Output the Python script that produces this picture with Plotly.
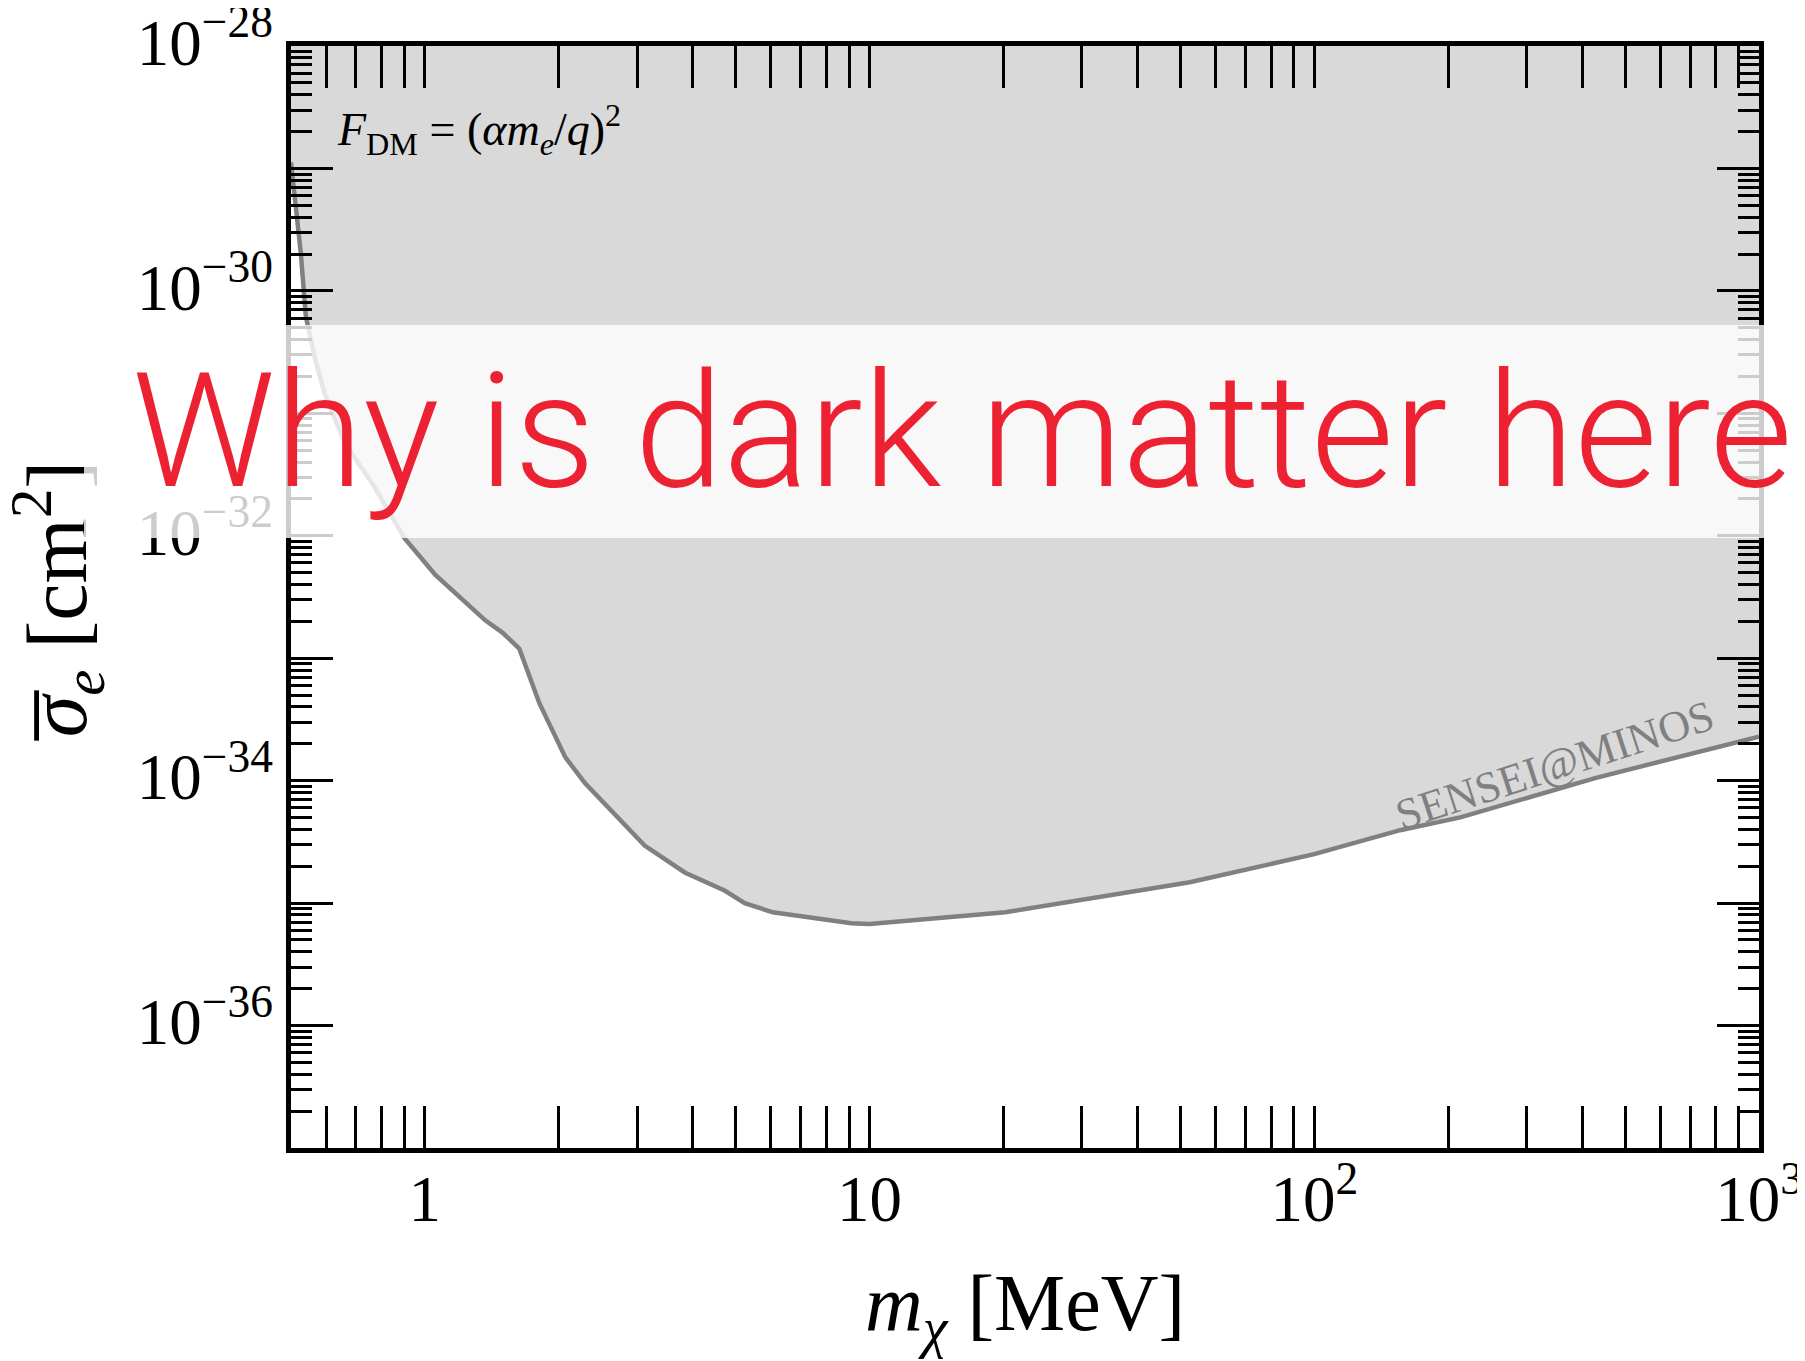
import plotly.graph_objects as go

# ---- data ----
mass_mev = [0.50, 0.512, 0.526, 0.540, 0.565, 0.595, 0.66, 0.77, 0.90, 1.056,
            1.367, 1.494, 1.63, 1.81, 2.07, 2.29, 3.12, 3.84, 4.73, 5.24,
            6.06, 9.1, 10.0, 20.2, 33.2, 52.5, 100.0, 156.0, 213.0, 428.0, 1000.0]
sigma_cm2 = [1.12e-29, 4.79e-30, 2.04e-30, 6.17e-31, 2.88e-31, 1.46e-31, 5.75e-32,
             2.51e-32, 9.55e-33, 4.79e-33, 2.04e-33, 1.62e-33, 1.20e-33, 4.27e-34,
             1.55e-34, 9.55e-35, 2.95e-35, 1.78e-35, 1.26e-35, 1.00e-35, 8.41e-36,
             6.84e-36, 6.76e-36, 8.41e-36, 1.12e-35, 1.48e-35, 2.51e-35, 3.94e-35,
             5.01e-35, 1.05e-34, 2.29e-34]
sigma_top = 1e-28

x_tickvals = [1, 10, 100, 1000]
x_ticktext = ["1", "10", "10<sup>2</sup>", "10<sup>3</sup>"]
y_label_exponents = [-28, -30, -32, -34, -36]
y_unlabelled_exponents = [-29, -31, -33, -35, -37]

curve_label = "SENSEI@MINOS"
form_factor_label = "<i>F</i><sub>DM</sub> = (<i>αm</i><sub><i>e</i></sub>/<i>q</i>)<sup>2</sup>"
x_title = "<i>m</i><sub><i>χ</i></sub> [MeV]"
y_title = "<i>σ</i><sub><i>e</i></sub> [cm<sup>2</sup>]"
y_title_bar = "\u2013"   # the bar drawn over sigma
overlay_text = "Why is dark matter here?"

# ---- derived tick arrays ----
y_tickvals = [10.0 ** e for e in y_label_exponents]
y_ticktext = ["10<sup>\u2212%d</sup>" % (-e) for e in y_label_exponents]
y_tickvals2 = [10.0 ** e for e in y_unlabelled_exponents]
x_minor = [m * 10.0 ** d for d in range(-1, 3) for m in range(2, 10)]
y_minor = [m * 10.0 ** e for e in y_label_exponents + y_unlabelled_exponents for m in range(2, 10)]

SERIF = "Liberation Serif"
TICKFONT = dict(family=SERIF, size=65, color="black")

fig = go.Figure()
fig.add_trace(go.Scatter(x=mass_mev, y=[sigma_top] * len(mass_mev), mode="lines",
                         line=dict(width=0, color="rgba(0,0,0,0)"), showlegend=False,
                         hoverinfo="skip"))
fig.add_trace(go.Scatter(x=mass_mev, y=sigma_cm2, mode="lines", fill="tonexty",
                         fillcolor="#d9d9d9", line=dict(color="#808080", width=4.5),
                         showlegend=False))

fig.update_layout(
    xaxis=dict(type="log", range=[-0.30103, 3], tickmode="array",
               tickvals=x_tickvals, ticktext=x_ticktext, ticklabelstandoff=-10,
               ticklabeloverflow="allow",
               showgrid=False, zeroline=False, showline=True, linecolor="black",
               linewidth=5, mirror="allticks", ticks="inside", tickcolor="black",
               tickwidth=2.5, ticklen=42, tickfont=TICKFONT, automargin=False,
               minor=dict(tickmode="array", tickvals=x_minor, ticks="inside",
                          ticklen=22, tickwidth=2.5, tickcolor="black")),
    yaxis=dict(type="log", range=[-37, -28], tickmode="array",
               tickvals=y_tickvals, ticktext=y_ticktext, ticklabelstandoff=0,
               ticklabelshift=-4, ticklabeloverflow="allow",
               showgrid=False, zeroline=False, showline=True, linecolor="black",
               linewidth=5, mirror="allticks", ticks="inside", tickcolor="black",
               tickwidth=2.5, ticklen=42, tickfont=TICKFONT, automargin=False,
               minor=dict(tickmode="array", tickvals=y_minor, ticks="inside",
                          ticklen=21, tickwidth=2.5, tickcolor="black")),
    yaxis2=dict(type="log", range=[-37, -28], overlaying="y", anchor="x", side="left",
                tickmode="array", tickvals=y_tickvals2, showticklabels=False,
                showgrid=False, zeroline=False, showline=False, mirror="allticks",
                ticks="inside", tickcolor="black", tickwidth=2.5, ticklen=42,
                automargin=False),
)
# invisible helper trace so the second (tick-only) y axis is drawn
fig.add_trace(go.Scatter(x=[mass_mev[0]], y=[sigma_top], yaxis="y2", mode="markers",
                         marker=dict(opacity=0), showlegend=False, hoverinfo="skip"))

annotations = [
    dict(text=form_factor_label, xref="paper", yref="paper", x=0.030, y=0.924,
         xanchor="left", yanchor="middle", showarrow=False,
         font=dict(family=SERIF, size=46, color="black")),
    dict(text=curve_label, xref="x", yref="y", x=2.54, y=-33.874, textangle=-18,
         xanchor="center", yanchor="middle", showarrow=False,
         font=dict(family=SERIF, size=44, color="#808080")),
    dict(text=x_title, xref="paper", yref="paper",
         x=0.5, y=-0.146, xanchor="center", yanchor="middle", showarrow=False,
         font=dict(family=SERIF, size=80, color="black")),
    dict(text=y_title, xref="paper", yref="paper",
         x=-0.1587, y=0.498, xanchor="center", yanchor="middle", textangle=-90,
         showarrow=False, font=dict(family=SERIF, size=84, color="black")),
    dict(text=y_title_bar, xref="paper", yref="paper",
         x=-0.1805, y=0.392, xanchor="center", yanchor="middle", textangle=-90,
         showarrow=False, font=dict(family=SERIF, size=98, color="black")),
    dict(text=" ", xref="paper", yref="paper", x=-0.141, y=0.650, xanchor="left",
         yanchor="middle", width=2000, height=213, borderpad=0, borderwidth=0,
         bgcolor="rgba(255,255,255,0.8)", showarrow=False,
         font=dict(family="Roboto", size=10)),
    dict(text=overlay_text, xref="paper", yref="paper", x=-0.1098, y=0.650,
         xanchor="left", yanchor="middle", showarrow=False,
         font=dict(family="Roboto", size=160, color="#EC2131", weight=300)),
]

# the page body adds an 8px offset, so the figure is 8px smaller than the window
fig.update_layout(
    width=1797, height=1353,
    margin=dict(l=283, r=46, t=38, b=213),
    paper_bgcolor="white", plot_bgcolor="white",
    annotations=annotations,
)

fig.write_html("out.html")
